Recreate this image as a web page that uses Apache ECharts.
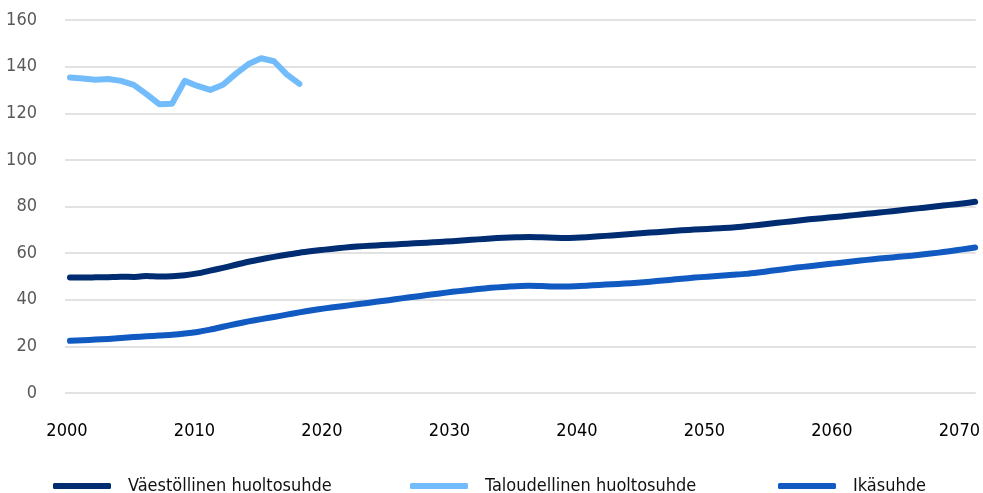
<!DOCTYPE html>
<html style="height: 100%">
<head>
<meta charset="utf-8">
<script src="https://cdn.jsdelivr.net/npm/echarts@6/dist/echarts.min.js"></script>
</head>
<body style="height: 100%; margin: 0; background: #fff">
<div id="container" style="width: 983px; height: 493px"></div>
<script type="text/javascript">
// vuodet 2000-2071
var years = [];
for (var y = 2000; y <= 2071; y++) years.push(y);

var xLabels = [2000, 2010, 2020, 2030, 2040, 2050, 2060, 2070];
var seriesNames = ['Väestöllinen huoltosuhde', 'Taloudellinen huoltosuhde', 'Ikäsuhde'];

// Väestöllinen huoltosuhde 2000-2071
var vaestollinen = [
  49.5, 49.5, 49.6, 49.7, 49.9, 49.8, 50.2, 50.0, 50.1, 50.5,
  51.3, 52.5, 53.7, 55.0, 56.3, 57.4, 58.4, 59.3, 60.2, 60.9,
  61.5, 62.1, 62.6, 63.0, 63.3, 63.6, 63.9, 64.2, 64.5, 64.8,
  65.1, 65.5, 65.9, 66.3, 66.6, 66.8, 66.9, 66.8, 66.6, 66.5,
  66.7, 67.0, 67.4, 67.8, 68.2, 68.6, 69.0, 69.4, 69.8, 70.1,
  70.4, 70.7, 71.0, 71.5, 72.1, 72.7, 73.3, 73.9, 74.5, 75.0,
  75.5, 76.0, 76.6, 77.1, 77.7, 78.3, 78.9, 79.5, 80.1, 80.7,
  81.3, 82.0
];

// Taloudellinen huoltosuhde 2000-2018
var taloudellinen = [
  135.3, 134.9, 134.4, 134.7, 133.9, 132.2, 128.2, 123.9, 124.1, 133.9,
  131.7, 130.0, 132.2, 136.9, 141.1, 143.6, 142.3, 136.7, 132.6
];

// Ikäsuhde 2000-2071
var ikasuhde = [
  22.4, 22.6, 22.9, 23.2, 23.6, 24.0, 24.3, 24.7, 25.0, 25.5,
  26.2, 27.2, 28.4, 29.6, 30.7, 31.7, 32.6, 33.6, 34.6, 35.5,
  36.3, 37.0, 37.7, 38.4, 39.1, 39.8, 40.6, 41.3, 42.0, 42.7,
  43.4, 44.0, 44.6, 45.1, 45.5, 45.8, 46.0, 45.9, 45.7, 45.7,
  45.9, 46.2, 46.5, 46.8, 47.1, 47.5, 48.0, 48.5, 49.0, 49.5,
  49.9, 50.3, 50.7, 51.1, 51.7, 52.4, 53.1, 53.8, 54.4, 55.0,
  55.6, 56.2, 56.8, 57.4, 57.9, 58.4, 58.9, 59.5, 60.1, 60.8,
  61.6, 62.4
];

var colors = ['#002D72', '#73BCFB', '#105AC2'];
var font = '"Liberation Sans Narrow", "DejaVu Sans Condensed", "Noto Sans", sans-serif';

function pairs(vals) {
  return vals.map(function (v, i) { return [years[i], v]; });
}

var dom = document.getElementById('container');
var myChart = echarts.init(dom);

function legendAt(idx, left) {
  return {
    data: [seriesNames[idx]],
    left: left,
    top: 472,
    icon: 'roundRect',
    itemWidth: 58,
    itemHeight: 6,
    textStyle: {
      fontFamily: font,
      fontSize: 18,
      color: '#111',
      padding: [0, 0, 0, 12]
    }
  };
}

var option = {
  animation: false,
  color: colors,
  grid: { left: 65, right: 0, top: 20, bottom: 100, containLabel: false },
  legend: [legendAt(0, 48), legendAt(1, 405), legendAt(2, 773)],
  xAxis: {
    type: 'value',
    min: 1999.61,
    max: 2071.05,
    axisLine: { show: false },
    axisTick: { show: false },
    splitLine: { show: false },
    axisLabel: {
      customValues: xLabels,
      formatter: function (v) { return String(v); },
      margin: 29,
      padding: [0, 6, 0, 0],
      fontFamily: font,
      fontSize: 18,
      color: '#000'
    }
  },
  yAxis: {
    type: 'value',
    min: 0,
    max: 160,
    interval: 20,
    axisLine: { show: false },
    axisTick: { show: false },
    splitLine: { lineStyle: { color: '#d9d9d9', width: 1.5 } },
    axisLabel: {
      margin: 28,
      fontFamily: font,
      fontSize: 18,
      color: '#595959'
    }
  },
  series: [
    {
      name: seriesNames[0], type: 'line', showSymbol: false, symbol: 'none',
      data: pairs(vaestollinen), smooth: 0.2,
      lineStyle: { width: 6, color: colors[0], cap: 'round', join: 'round' }
    },
    {
      name: seriesNames[1], type: 'line', showSymbol: false, symbol: 'none',
      data: pairs(taloudellinen),
      lineStyle: { width: 6, color: colors[1], cap: 'round', join: 'round' }
    },
    {
      name: seriesNames[2], type: 'line', showSymbol: false, symbol: 'none',
      data: pairs(ikasuhde), smooth: 0.2,
      lineStyle: { width: 6, color: colors[2], cap: 'round', join: 'round' }
    }
  ]
};

myChart.setOption(option, true);
</script>
</body>
</html>
